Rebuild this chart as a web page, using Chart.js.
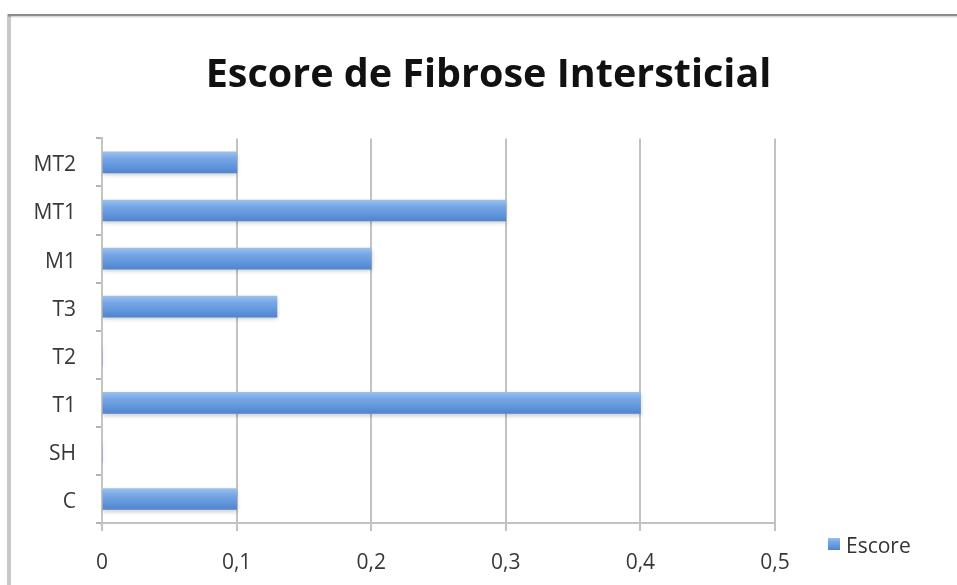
<!DOCTYPE html>
<html>
<head>
<meta charset="utf-8">
<script src="https://cdn.jsdelivr.net/npm/chart.js@4"></script>
<style>
  html, body { margin: 0; padding: 0; background: #ffffff; overflow: hidden; }
  #wrap { width: 957px; height: 585px; }
  canvas { display: block; }
</style>
</head>
<body>
<div id="wrap"><canvas id="chart" width="957" height="585"></canvas></div>
<script>
// Groups, bottom to top
const categories = ['C', 'SH', 'T1', 'T2', 'T3', 'M1', 'MT1', 'MT2'];
// Interstitial fibrosis score per group
const escore = [0.1, 0, 0.4, 0, 0.13, 0.2, 0.3, 0.1];
// Value axis tick labels (decimal comma)
const xTickLabels = ['0', '0,1', '0,2', '0,3', '0,4', '0,5'];
const seriesName = 'Escore';
const chartTitle = 'Escore de Fibrose Intersticial';

const BAR_THICKNESS = 21;
const FONT = "'Open Sans', 'DejaVu Sans', sans-serif";

function barGradient(ctx, top, bottom) {
  const g = ctx.createLinearGradient(0, top, 0, bottom);
  g.addColorStop(0, '#9cc0ee');
  g.addColorStop(0.3, '#77a8e6');
  g.addColorStop(0.7, '#6094dc');
  g.addColorStop(1, '#5084cc');
  return g;
}

// Outer frame of the chart sheet
const framePlugin = {
  id: 'frame',
  beforeDraw(chart) {
    const c = chart.ctx;
    c.save();
    c.fillStyle = '#ffffff';
    c.fillRect(0, 0, chart.width, chart.height);
    c.fillStyle = '#c8c8c8';
    c.fillRect(7, 14, 4, chart.height - 14);
    c.fillStyle = '#8c8c8c';
    c.fillRect(8, 14, chart.width - 8, 2.5);
    c.fillStyle = '#ececec';
    c.fillRect(11, 16.5, chart.width - 11, 1.5);
    c.restore();
  }
};

// Soft drop shadow under the bars
const shadowPlugin = {
  id: 'barShadow',
  beforeDatasetsDraw(chart) {
    const c = chart.ctx;
    c.save();
    c.shadowColor = 'rgba(0,0,0,0.2)';
    c.shadowBlur = 4;
    c.shadowOffsetY = 2;
  },
  afterDatasetsDraw(chart) {
    chart.ctx.restore();
  }
};

// Legend entry at the lower right, beside the value axis labels
const sideLegendPlugin = {
  id: 'sideLegend',
  afterDraw(chart) {
    const c = chart.ctx;
    const area = chart.chartArea;
    const ds = chart.data.datasets[0];
    const x = area.right + 53;
    const yMid = area.bottom + 21;
    c.save();
    c.fillStyle = barGradient(c, yMid - 6, yMid + 6);
    c.fillRect(x, yMid - 6, 12, 12);
    c.fillStyle = '#333333';
    c.font = '21px ' + FONT;
    c.textBaseline = 'middle';
    c.textAlign = 'left';
    c.fillText(ds.label, x + 18, yMid + 3);
    c.restore();
  }
};

const chart = new Chart(document.getElementById('chart'), {
  type: 'bar',
  data: {
    labels: categories,
    datasets: [{
      label: seriesName,
      data: escore,
      xAxisID: 'x',
      yAxisID: 'y',
      barThickness: BAR_THICKNESS,
      borderWidth: 0,
      backgroundColor(ctx) {
        const ch = ctx.chart;
        const yScale = ch.scales.y;
        if (!yScale || !ch.chartArea) return '#6196dc';
        const yc = yScale.getPixelForValue(ctx.dataIndex);
        return barGradient(ch.ctx, yc - BAR_THICKNESS / 2, yc + BAR_THICKNESS / 2);
      }
    }]
  },
  options: {
    indexAxis: 'y',
    responsive: false,
    animation: false,
    events: [],
    layout: { padding: { left: 20, right: 0, top: 0, bottom: 0 } },
    plugins: {
      legend: { display: false },
      tooltip: { enabled: false },
      title: {
        display: true,
        text: chartTitle,
        color: '#111111',
        font: { family: FONT, size: 39.5, weight: 'bold', lineHeight: 1.2 },
        padding: { top: 52, bottom: 39 }
      }
    },
    scales: {
      y: {
        type: 'category',
        reverse: true,
        position: 'left',
        grid: {
          drawOnChartArea: false,
          drawTicks: true,
          tickLength: 6,
          color: '#b4b4b4',
          lineWidth: 2,
          offset: true
        },
        border: { display: true, color: '#c4c4c4', width: 2 },
        ticks: {
          color: '#383838',
          padding: 20,
          labelOffset: 3,
          font: { family: FONT, size: 21 }
        },
        afterFit(s) { s.width = 82; }
      },
      yPad: {
        type: 'linear',
        position: 'right',
        axis: 'y',
        display: true,
        grid: { display: false, drawTicks: false },
        border: { display: false },
        ticks: { display: false },
        afterFit(s) { s.width = 182; }
      },
      x: {
        type: 'linear',
        position: 'bottom',
        min: 0,
        max: 0.5,
        grid: {
          color: '#c2c2c2',
          lineWidth: 2,
          drawTicks: true,
          tickLength: 8
        },
        border: { display: true, color: '#c2c2c2', width: 2 },
        ticks: {
          stepSize: 0.1,
          color: '#383838',
          padding: 19,
          font: { family: FONT, size: 21 },
          callback(value, index) { return xTickLabels[index]; }
        },
        afterFit(s) { s.height = 62; }
      }
    }
  },
  plugins: [framePlugin, shadowPlugin, sideLegendPlugin]
});
</script>
</body>
</html>
